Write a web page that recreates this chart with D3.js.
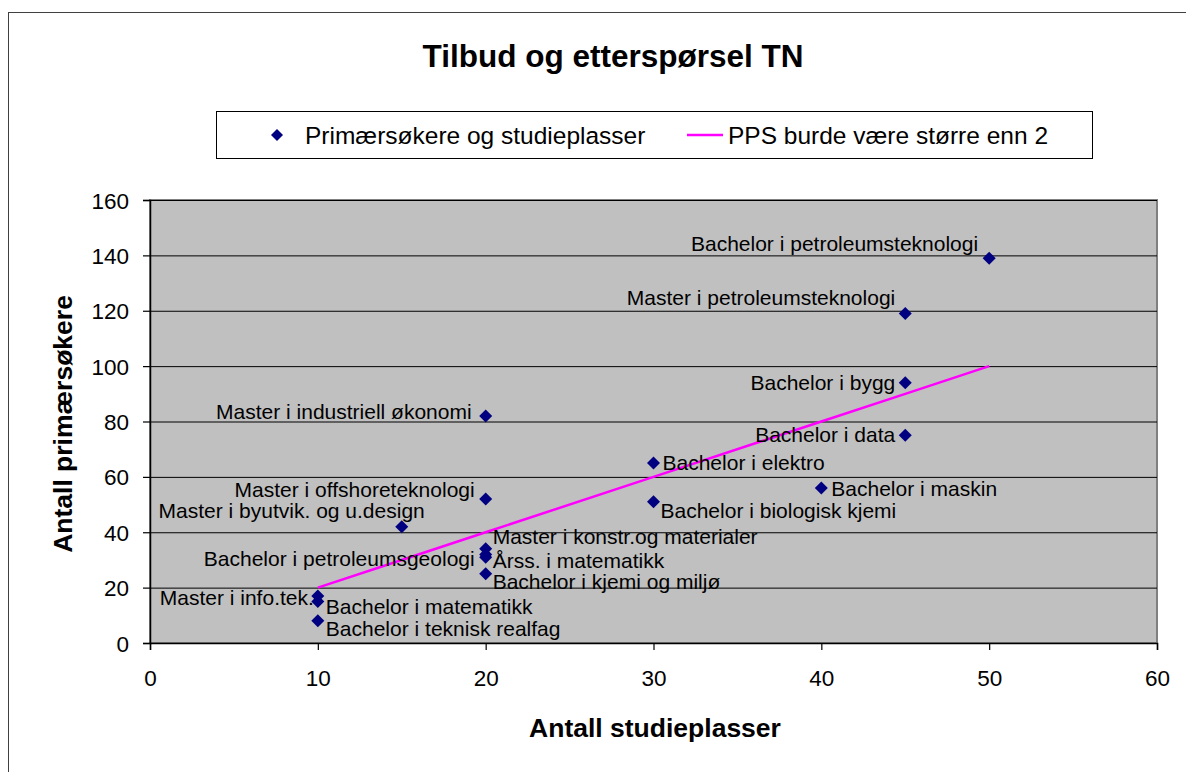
<!DOCTYPE html>
<html>
<head>
<meta charset="utf-8">
<script src="https://cdn.jsdelivr.net/npm/d3@7"></script>
<style>
  body { margin: 0; background: #fff; }
  svg text { font-family: "Liberation Sans", Arial, sans-serif; }
</style>
</head>
<body>
<div id="chart"></div>
<script>
// studieprogram, studieplasser, primærsøkere
const programs = [
  "Bachelor i petroleumsteknologi", "Master i petroleumsteknologi", "Bachelor i bygg",
  "Bachelor i data", "Bachelor i elektro", "Bachelor i maskin", "Bachelor i biologisk kjemi",
  "Master i industriell økonomi", "Master i offshoreteknologi", "Master i byutvik. og u.design",
  "Master i konstr.og materialer", "Bachelor i petroleumsgeologi", "Årss. i matematikk",
  "Bachelor i kjemi og miljø", "Master i info.tek.", "Bachelor i matematikk",
  "Bachelor i teknisk realfag"
]
const places = [50, 45, 45, 45, 30, 40, 30, 20, 20, 15, 20, 20, 20, 20, 10, 10, 10]
const applicants = [139, 119, 94, 75, 65, 56, 51, 82, 52, 42, 34, 32, 31, 25, 17, 15, 8]
// PPS = 2 linje
const ppsX = [10, 15, 20, 30, 40, 45, 50]
const ppsY = [20, 30, 40, 60, 80, 90, 100]
const xTicks = [0, 10, 20, 30, 40, 50, 60]
const yTicks = [0, 20, 40, 60, 80, 100, 120, 140, 160]

// label placement: [anchor, dx, dy]
const labelNudge = [
  ["end", -11, -15], ["end", -10, -16], ["end", -10, 0], ["end", -10, -1],
  ["start", 9, -1], ["start", 10, 0], ["start", 7, 9],
  ["end", -14, -5], ["end", -11, -10], ["end", 23, -16],
  ["start", 7, -12], ["end", -11, 4], ["start", 7, 3],
  ["start", 7, 8], ["end", -4, 2], ["start", 8, 5],
  ["start", 8, 8]
]

const width = 1186, height = 772
const plot = { left: 150, right: 1157, top: 200, bottom: 643 }

const svg = d3.select("#chart").append("svg")
  .attr("width", width)
  .attr("height", height)

// ytre ramme
svg.append("rect")
  .attr("x", 8.5).attr("y", 12.5)
  .attr("width", 1200).attr("height", 800)
  .attr("fill", "#fff")
  .attr("stroke", "#404040")
  .attr("stroke-width", 1)

const x = d3.scaleLinear().domain([0, 60]).range([plot.left, plot.right])
const y = d3.scaleLinear().domain([0, 160]).range([plot.bottom, plot.top])

// plottområde
svg.append("rect")
  .attr("x", plot.left).attr("y", plot.top)
  .attr("width", plot.right - plot.left)
  .attr("height", plot.bottom - plot.top)
  .attr("fill", "#c0c0c0")
  .attr("stroke", "#808080")
  .attr("stroke-width", 2)

// rutenett
svg.append("g")
  .selectAll("line")
  .data(yTicks.slice(1))
  .enter()
  .append("line")
  .attr("x1", plot.left).attr("x2", plot.right)
  .attr("y1", d => y(d) + 0.5).attr("y2", d => y(d) + 0.5)
  .attr("stroke", "#000")
  .attr("stroke-width", 1)

// akser
const xAxis = svg.append("g")
  .attr("transform", `translate(0,${plot.bottom})`)
  .call(d3.axisBottom(x).tickValues(xTicks).tickSize(7).tickPadding(20))
const yAxis = svg.append("g")
  .attr("transform", `translate(${plot.left},0)`)
  .call(d3.axisLeft(y).tickValues(yTicks).tickSize(7).tickPadding(14))
;[xAxis, yAxis].forEach(g => {
  g.select(".domain").attr("stroke", "#000").attr("stroke-width", 1.5)
  g.selectAll(".tick line").attr("stroke", "#000").attr("stroke-width", 1.2)
  g.selectAll(".tick text")
    .attr("font-size", 22.5)
    .attr("font-family", "'Liberation Sans', Arial, sans-serif")
    .attr("fill", "#000")
})
yAxis.selectAll(".tick text").attr("dy", "0.36em")

// PPS-linje
const line = d3.line().x(d => x(d[0])).y(d => y(d[1]))
svg.append("path")
  .datum(d3.zip(ppsX, ppsY))
  .attr("d", line)
  .attr("fill", "none")
  .attr("stroke", "#ff00ff")
  .attr("stroke-width", 2.5)

// punkter
const diamond = s => `M0,${-s} L${s},0 L0,${s} L${-s},0 Z`
const points = d3.range(programs.length)
svg.append("g")
  .selectAll("path")
  .data(points)
  .enter()
  .append("path")
  .attr("transform", i => `translate(${x(places[i])},${y(applicants[i])})`)
  .attr("d", diamond(6.5))
  .attr("fill", "#000080")

svg.append("g")
  .selectAll("text")
  .data(points)
  .enter()
  .append("text")
  .attr("x", i => x(places[i]) + labelNudge[i][1])
  .attr("y", i => y(applicants[i]) + labelNudge[i][2])
  .attr("dy", "0.36em")
  .attr("text-anchor", i => labelNudge[i][0])
  .attr("font-size", 21)
  .attr("fill", "#000")
  .text(i => programs[i])

// tittel
svg.append("text")
  .attr("x", 613).attr("y", 67)
  .attr("text-anchor", "middle")
  .attr("font-size", 31.5)
  .attr("font-weight", "bold")
  .text("Tilbud og etterspørsel TN")

// aksetitler
svg.append("text")
  .attr("x", 655).attr("y", 737)
  .attr("text-anchor", "middle")
  .attr("font-size", 26.5)
  .attr("font-weight", "bold")
  .text("Antall studieplasser")
svg.append("text")
  .attr("transform", "translate(72,424) rotate(-90)")
  .attr("text-anchor", "middle")
  .attr("font-size", 26.5)
  .attr("font-weight", "bold")
  .text("Antall primærsøkere")

// forklaring
const legend = svg.append("g")
legend.append("rect")
  .attr("x", 216.5).attr("y", 111.5)
  .attr("width", 876).attr("height", 47)
  .attr("fill", "#fff")
  .attr("stroke", "#000")
  .attr("stroke-width", 1)
legend.append("path")
  .attr("transform", "translate(277,135)")
  .attr("d", diamond(6))
  .attr("fill", "#000080")
legend.append("text")
  .attr("x", 305).attr("y", 135).attr("dy", "0.36em")
  .attr("font-size", 24.5)
  .text("Primærsøkere og studieplasser")
legend.append("line")
  .attr("x1", 687).attr("x2", 723)
  .attr("y1", 135).attr("y2", 135)
  .attr("stroke", "#ff00ff")
  .attr("stroke-width", 2.5)
legend.append("text")
  .attr("x", 728).attr("y", 135).attr("dy", "0.36em")
  .attr("font-size", 24.5)
  .text("PPS burde være større enn 2")
</script>
</body>
</html>
